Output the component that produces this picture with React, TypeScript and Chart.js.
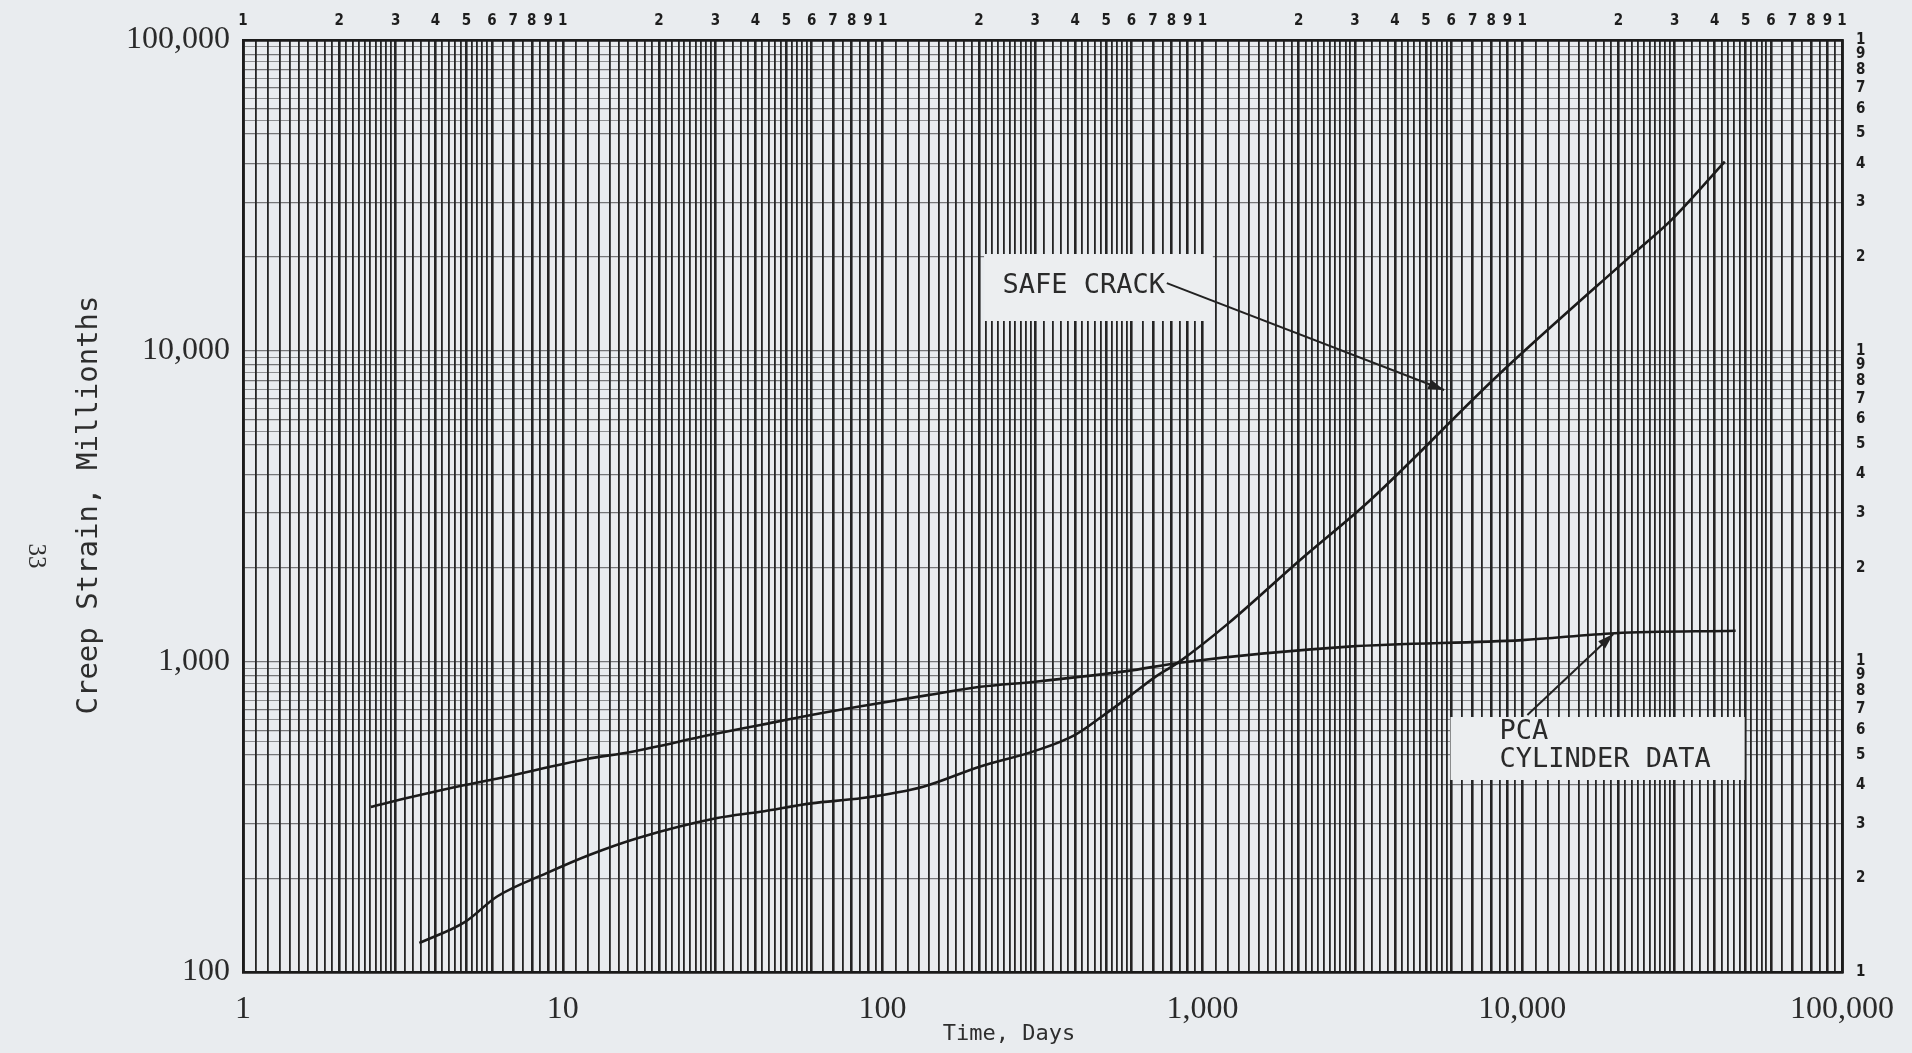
import React, { useEffect, useRef } from "react";
import { Chart, registerables } from "chart.js";
Chart.register(...registerables);

// ---- data ----
const safeCrackDays = [3.56, 4.95, 6.23, 8.9, 12.1, 17.2, 30.4, 41.5, 59.8, 86.4, 134, 201, 300, 400, 500, 600, 700, 850, 1200, 2000, 3345, 8420, 22000, 29300, 43000];
const safeCrackStrain = [124, 145, 175, 208, 238, 270, 313, 328, 349, 363, 395, 458, 515, 580, 680, 780, 880, 1000, 1320, 2100, 3300, 8350, 20300, 26350, 40600];

const pcaDays = [2.51, 3.18, 4.94, 6.21, 11.9, 16.3, 28.7, 41.5, 59.8, 86.4, 140, 202, 300, 580, 850, 2866, 10000, 19500, 46500];
const pcaStrain = [340, 361, 400, 419, 485, 511, 579, 624, 672, 718, 780, 828, 860, 930, 990, 1115, 1170, 1232, 1255];

const xDecades = [1, 10, 100, 1000, 10000, 100000];
const xDecadeLabels = ["1", "10", "100", "1,000", "10,000", "100,000"];
const yDecades = [100, 1000, 10000, 100000];
const yDecadeLabels = ["100", "1,000", "10,000", "100,000"];
const paperDigits = ["1", "2", "3", "4", "5", "6", "7", "8", "9"];

const xTitle = "Time, Days";
const yTitle = "Creep Strain, Millionths";
const pageNumber = "33";
const safeCrackLabel = ["SAFE CRACK"];
const pcaLabel = ["PCA", "CYLINDER DATA"];

// ---- graph-paper rulings ----
const round6 = (v: number) => Number(v.toPrecision(6));
function xRulings(): number[] {
  const out: number[] = [];
  for (let k = 0; k < 5; k++) {
    const p = Math.pow(10, k);
    for (let i = 10; i < 30; i++) out.push(round6((i / 10) * p));
    for (let i = 30; i < 60; i += 2) out.push(round6((i / 10) * p));
    for (let i = 60; i < 100; i += 5) out.push(round6((i / 10) * p));
  }
  out.push(100000);
  return out;
}
function yRulings(): number[] {
  const out: number[] = [];
  for (let k = 2; k < 5; k++) {
    const p = Math.pow(10, k);
    for (let i = 1; i < 10; i++) {
      out.push(round6(i * p));
      if (i >= 5) out.push(round6((i + 0.5) * p));
    }
  }
  out.push(100000);
  return out;
}
function digitTicks(k0: number, k1: number): number[] {
  const out: number[] = [];
  for (let k = k0; k < k1; k++) {
    const p = Math.pow(10, k);
    for (let i = 1; i < 10; i++) out.push(round6(i * p));
  }
  out.push(Math.pow(10, k1));
  return out;
}
const mantissa = (v: number) => {
  const e = Math.floor(Math.log10(v) + 1e-9);
  return v / Math.pow(10, e);
};
const isWhole = (m: number) => Math.abs(m - Math.round(m)) < 1e-6;

const PAPER = "#e9ecef";
const INK = "#1b1b1b";

export default function App() {
  const ref = useRef<HTMLCanvasElement | null>(null);

  useEffect(() => {
    document.body.style.margin = "0";
    document.body.style.background = PAPER;
    const canvas = ref.current!;

    const annot = {
      id: "annot",
      beforeDraw(chart: any) {
        const c = chart.ctx;
        c.save();
        c.fillStyle = PAPER;
        c.fillRect(0, 0, chart.width, chart.height);
        c.restore();
      },
      afterDatasetsDraw(chart: any) {
        const c = chart.ctx;
        const xs = chart.scales.x;
        const ys = chart.scales.y;
        const X = (v: number) => xs.getPixelForValue(v);
        const Y = (v: number) => ys.getPixelForValue(v);
        c.save();
        // label boxes
        c.fillStyle = "#eceef0";
        c.fillRect(X(207.6), Y(20470), X(1078) - X(207.6), Y(12460) - Y(20470));
        c.fillRect(X(5967), Y(662), X(49610) - X(5967), Y(415) - Y(662));
        c.fillStyle = "#2a2a2a";
        c.font = "27px 'DejaVu Sans Mono', monospace";
        c.textBaseline = "middle";
        c.textAlign = "left";
        c.fillText(safeCrackLabel[0], X(237), Y(16150));
        c.fillText(pcaLabel[0], X(8490), Y(593));
        c.fillText(pcaLabel[1], X(8490), Y(482));
        // leaders
        const arrow = (x0: number, y0: number, x1: number, y1: number) => {
          c.strokeStyle = "#222";
          c.lineWidth = 2;
          c.beginPath();
          c.moveTo(x0, y0);
          c.lineTo(x1, y1);
          c.stroke();
          const a = Math.atan2(y1 - y0, x1 - x0);
          const L = 16, W = 5;
          c.fillStyle = "#222";
          c.beginPath();
          c.moveTo(x1, y1);
          c.lineTo(x1 - L * Math.cos(a) + W * Math.sin(a), y1 - L * Math.sin(a) - W * Math.cos(a));
          c.lineTo(x1 - L * Math.cos(a) - W * Math.sin(a), y1 - L * Math.sin(a) + W * Math.cos(a));
          c.closePath();
          c.fill();
        };
        arrow(X(774), Y(16500), X(5700), Y(7470));
        arrow(X(10380), Y(672), X(19270), Y(1225));
        // axis titles + page number
        c.fillStyle = "#2e2e2e";
        c.font = "22px 'DejaVu Sans Mono', monospace";
        c.textAlign = "center";
        c.fillText(xTitle, 1009, 1034);
        c.save();
        c.translate(89, 505);
        c.rotate(-Math.PI / 2);
        c.font = "29px 'DejaVu Sans Mono', monospace";
        c.fillText(yTitle, 0, 0);
        c.restore();
        c.save();
        c.translate(36, 556);
        c.rotate(Math.PI / 2);
        c.font = "25px 'Liberation Serif', serif";
        c.fillText(pageNumber, 0, 0);
        c.restore();
        c.restore();
      },
    };

    const vWidth = (ctx: any) => {
      const v = ctx.tick && ctx.tick.value;
      if (!v) return 1.8;
      const m = mantissa(v);
      return isWhole(m) ? 2.6 : 1.8;
    };
    const hWidth = (ctx: any) => {
      const v = ctx.tick && ctx.tick.value;
      if (!v) return 1;
      const m = mantissa(v);
      return isWhole(m) ? 1.3 : 0.8;
    };

    const digitFont = { family: "'Liberation Sans Narrow', 'DejaVu Sans Condensed', sans-serif", size: 15, weight: "bold" as const };

    const chart = new Chart(canvas, {
      type: "line",
      data: {
        datasets: [
          {
            label: safeCrackLabel[0],
            data: safeCrackDays.map((d, i) => ({ x: d, y: safeCrackStrain[i] })),
            borderColor: INK,
            borderWidth: 2.6,
            pointRadius: 0,
            cubicInterpolationMode: "monotone",
            xAxisID: "x",
            yAxisID: "y",
          },
          {
            label: pcaLabel.join(" "),
            data: pcaDays.map((d, i) => ({ x: d, y: pcaStrain[i] })),
            borderColor: INK,
            borderWidth: 2.6,
            pointRadius: 0,
            cubicInterpolationMode: "monotone",
            xAxisID: "x",
            yAxisID: "y",
          },
        ],
      },
      options: {
        responsive: false,
        animation: false,
        layout: { padding: 0 },
        plugins: { legend: { display: false }, tooltip: { enabled: false } },
        scales: {
          x: {
            type: "logarithmic",
            position: "bottom",
            min: 1,
            max: 100000,
            afterBuildTicks: (s: any) => {
              s.ticks = xRulings().map((v) => ({ value: v }));
            },
            afterFit: (s: any) => {
              s.height = 81;
            },
            ticks: {
              autoSkip: false,
              maxRotation: 0,
              padding: 18,
              color: "#2a2a2a",
              font: { family: "'Liberation Serif', serif", size: 32 },
              callback: (v: any) => {
                const i = xDecades.indexOf(Number(v));
                return i >= 0 ? xDecadeLabels[i] : "";
              },
            },
            grid: { drawTicks: false, color: "rgba(18,18,18,0.92)", lineWidth: vWidth },
            border: { display: true, color: INK, width: 2.8 },
          },
          x2: {
            type: "logarithmic",
            position: "top",
            min: 1,
            max: 100000,
            afterBuildTicks: (s: any) => {
              s.ticks = digitTicks(0, 5).map((v) => ({ value: v }));
            },
            afterFit: (s: any) => {
              s.height = 40;
            },
            ticks: {
              autoSkip: false,
              maxRotation: 0,
              padding: 10,
              color: "#1e1e1e",
              font: digitFont,
              callback: (v: any) => paperDigits[Math.round(mantissa(Number(v))) - 1] || "",
            },
            grid: { display: false, drawTicks: false },
            border: { display: true, color: INK, width: 2.8 },
          },
          y: {
            type: "logarithmic",
            position: "left",
            min: 100,
            max: 100000,
            afterBuildTicks: (s: any) => {
              s.ticks = yRulings().map((v) => ({ value: v }));
            },
            afterFit: (s: any) => {
              s.width = 243;
            },
            ticks: {
              autoSkip: false,
              padding: 13,
              color: "#2a2a2a",
              font: { family: "'Liberation Serif', serif", size: 32 },
              callback: (v: any) => {
                const i = yDecades.indexOf(Number(v));
                return i >= 0 ? yDecadeLabels[i] : "";
              },
            },
            grid: { drawTicks: false, color: "rgba(40,40,40,0.6)", lineWidth: hWidth },
            border: { display: true, color: INK, width: 2.8 },
          },
          y2: {
            type: "logarithmic",
            position: "right",
            min: 100,
            max: 100000,
            afterBuildTicks: (s: any) => {
              s.ticks = digitTicks(2, 5).map((v) => ({ value: v }));
            },
            afterFit: (s: any) => {
              s.width = 68;
            },
            ticks: {
              autoSkip: false,
              padding: 14,
              color: "#1e1e1e",
              font: digitFont,
              callback: (v: any) => paperDigits[Math.round(mantissa(Number(v))) - 1] || "",
            },
            grid: { display: false, drawTicks: false },
            border: { display: true, color: INK, width: 2.8 },
          },
        },
      },
      plugins: [annot],
    } as any);

    return () => chart.destroy();
  }, []);

  return (
    <div style={{ width: 1912, height: 1053, background: PAPER }}>
      <canvas ref={ref} width={1912} height={1053} style={{ display: "block" }} />
    </div>
  );
}
